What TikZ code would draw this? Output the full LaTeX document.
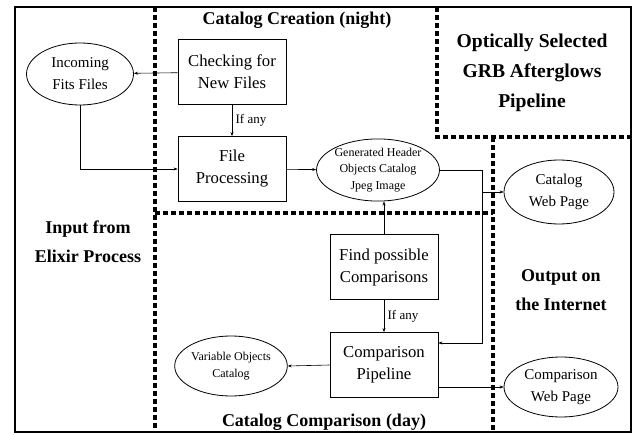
\documentclass[tikz,border=0pt]{standalone}
\usepackage{fontspec}
\setmainfont{Liberation Serif}
\usepackage{tikz}
\usetikzlibrary{shapes.geometric, arrows.meta}
\tikzset{
  box/.style={draw, thick, minimum width=108pt, minimum height=65pt, align=center, font=\fontsize{16.7}{22}\selectfont},
  blob/.style={draw, ellipse, thick, inner sep=0pt, align=center, font=\fontsize{15}{22}\selectfont},
  small/.style={font=\fontsize{12}{16.5}\selectfont},
  area/.style={line width=3.2pt, dash pattern=on 5pt off 3pt},
  title/.style={align=center, font=\fontsize{18}{29}\selectfont\bfseries},
  arrow/.style={-{Stealth[length=4pt,width=3pt]}, semithick},
  link/.style={semithick},
  note/.style={right, font=\fontsize{13}{15}\selectfont}
}

\begin{document}
\begin{tikzpicture}[x=1pt, y=-1pt]
		\useasboundingbox (0,0) rectangle (634,435);
		% frame and areas
		\draw[line width=2.2pt] (15,7) rectangle (631,432);
		\draw[area] (155,7) -- (155,432);
		\draw[area] (155,213) -- (493,213);
		\draw[area] (493,137) -- (493,432);
		\draw[area] (437,7) -- (437,137) -- (631,137);
		\node[title] (night) at (297,20) {Catalog Creation (night)};
		\node[title] (day) at (324,422) {Catalog Comparison (day)};
		\node[title] (input) at (88,242) {Input from\\Elixir Process};
		\node[title] (output) at (561,290) {Output on\\the Internet};
		\node[title, font=\fontsize{19.6}{30}\selectfont\bfseries] (grb) at (532,73) {Optically Selected\\GRB Afterglows\\Pipeline};
		% nodes
		\node[blob, minimum width=107pt, minimum height=62pt] (incoming) at (80,74) {Incoming\\Fits Files};
		\node[box] (check) at (232,72) {Checking for\\New Files};
		\node[box] (fileproc) at (232,169) {File\\Processing};
		\node[blob, small, minimum width=120pt, minimum height=60pt] (gen) at (378,170) {Generated Header\\Objects Catalog\\Jpeg Image};
		\node[blob, minimum width=110pt, minimum height=64pt] (catweb) at (559,192) {Catalog\\Web Page};
		\node[box] (find) at (384,267) {Find possible\\Comparisons};
		\node[box] (comp) at (384,365) {Comparison\\Pipeline};
		\node[blob, small, minimum width=111pt, minimum height=60pt] (varobj) at (231,366) {Variable Objects\\Catalog};
		\node[blob, minimum width=114pt, minimum height=60pt] (compweb) at (561,387) {Comparison\\Web Page};
		\coordinate (bend) at (482,170);
		\coordinate (tap) at (482,192);
		% connectors
		\draw[arrow] (check) -- (incoming);
		\draw[arrow] (check) -- node[note] {If any} (fileproc);
		\draw[arrow] (incoming.south) |- (fileproc.west);
		\draw[arrow] (fileproc) -- (gen);
		\draw[link] (gen.east) -- (bend) -- (tap);
		\draw[arrow] (tap) |- ([yshift=22pt]comp.east);
		\draw[arrow] (tap) -- (catweb.west);
		\draw[arrow] (find.north) -- (gen.south -| find.north);
		\draw[arrow] (find) -- node[note] {If any} (comp);
		\draw[arrow] (comp.west) -- (varobj.east);
		\draw[arrow] ([yshift=-22pt]comp.east) -- (compweb.west);
	\end{tikzpicture}
\end{document}
